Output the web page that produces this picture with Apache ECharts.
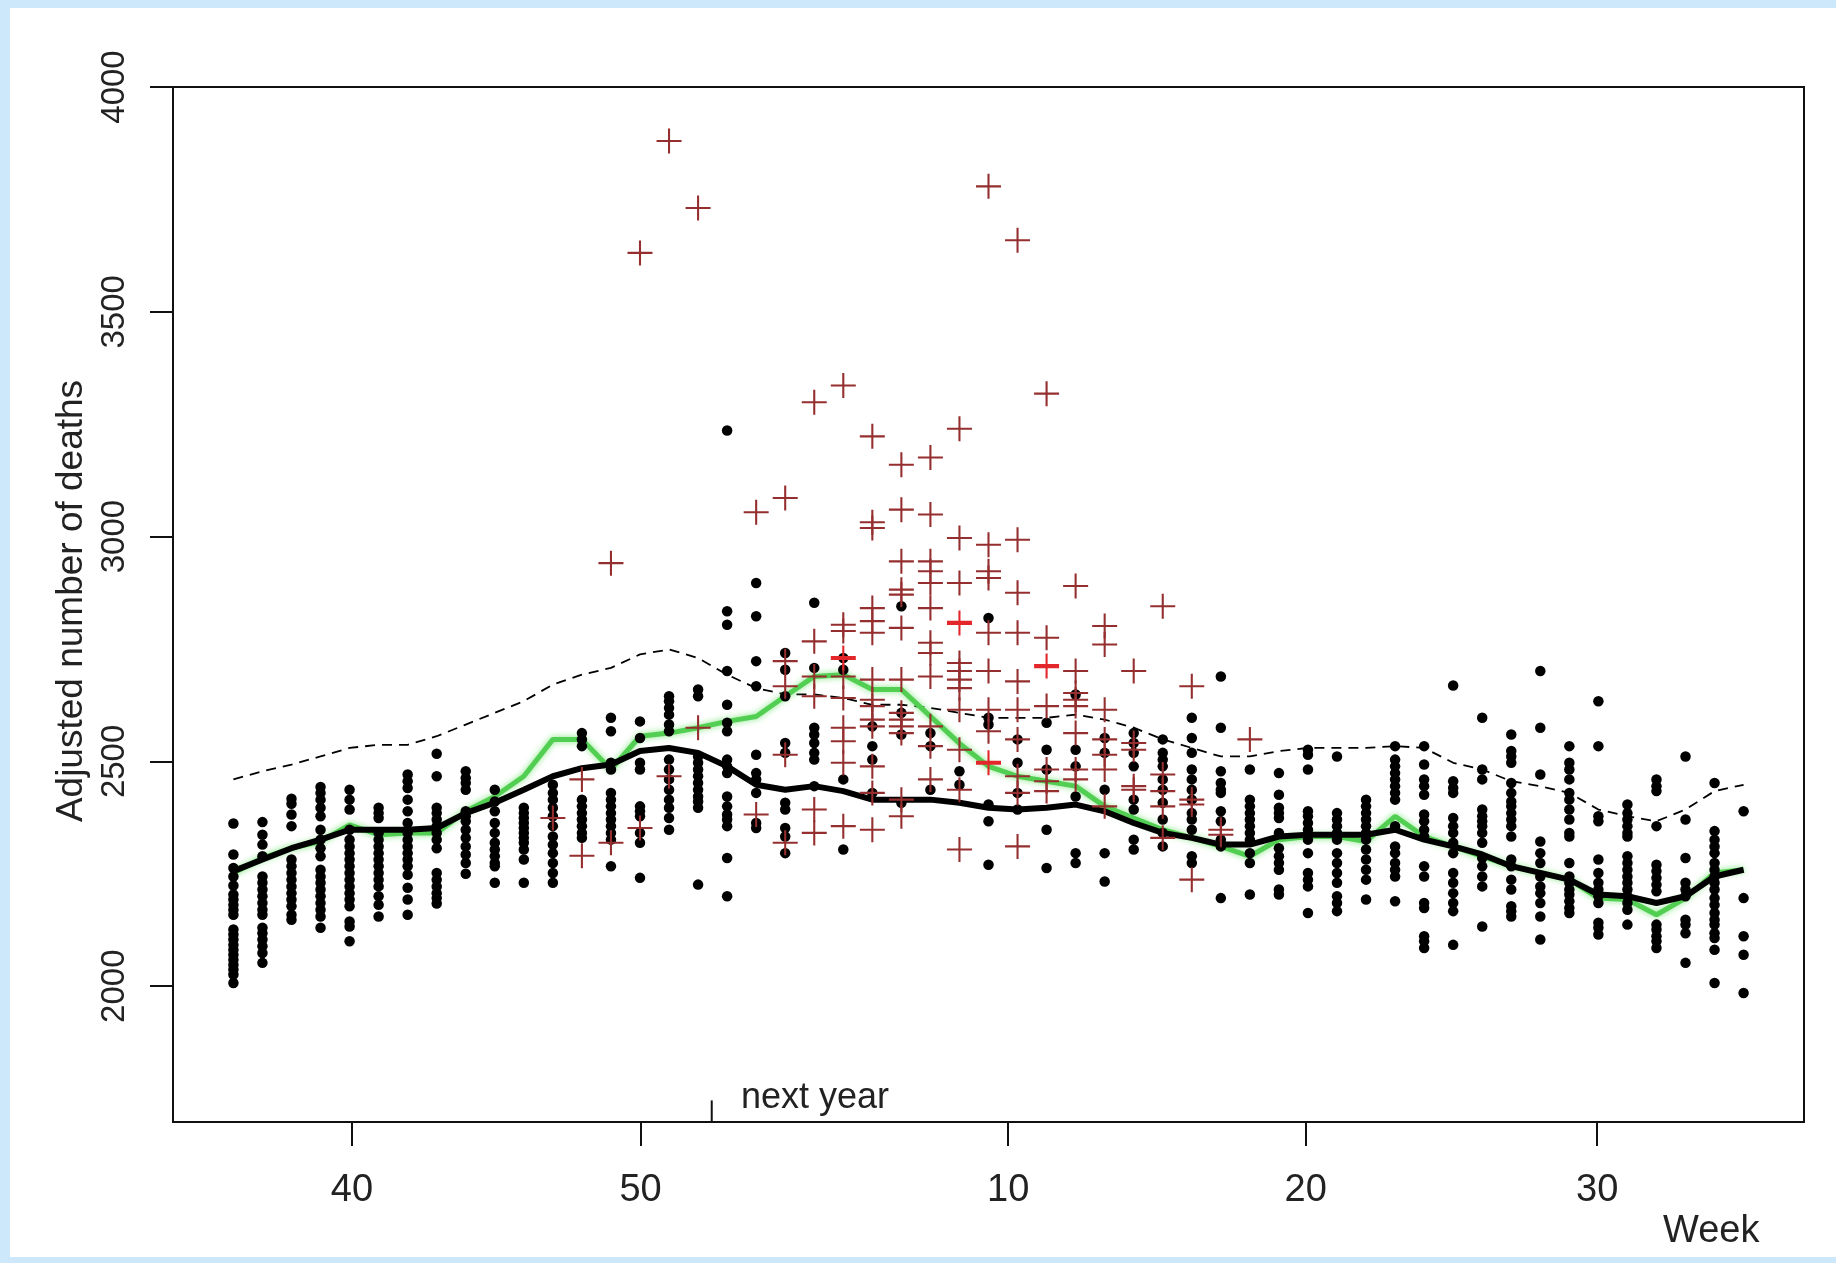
<!DOCTYPE html>
<html>
<head>
<meta charset="utf-8">
<script src="https://cdn.jsdelivr.net/npm/echarts@6/dist/echarts.min.js"></script>
<style>
  html, body { margin: 0; padding: 0; background: #cce8fa; width: 1836px; height: 1263px; overflow: hidden; }
  #paper { position: absolute; left: 10px; top: 8px; width: 1826px; height: 1249px; background: #ffffff; }
  #chart { position: absolute; left: 0; top: 0; width: 1836px; height: 1263px; }
</style>
</head>
<body>
<div id="paper"></div>
<div id="chart"></div>
<script>
// ---- tick labels (week numbers) and their positions on the week-index axis ----
const weekLabels = ['40', '50', '10', '20', '30'];
const weekTickPos = [4.08, 14.02, 26.68, 36.92, 46.96];
const nextYearPos = 16.47;
const yTicks = [2000, 2500, 3000, 3500, 4000];

// ---- observed adjusted deaths (black dots), one array per week column (week 36 .. week 35 next year) ----
const dots = [
  [2362,2293,2263,2244,2224,2204,2193,2181,2170,2159,2126,2115,2104,2092,2081,2070,2059,2048,2037,2026,2007],
  [2365,2337,2315,2289,2244,2230,2215,2200,2185,2170,2159,2130,2118,2104,2089,2074,2052],
  [2417,2406,2382,2356,2282,2267,2252,2237,2222,2207,2193,2178,2159,2148],
  [2443,2430,2415,2397,2378,2348,2326,2307,2289,2259,2244,2230,2215,2200,2185,2170,2155,2130],
  [2437,2415,2393,2348,2326,2311,2296,2282,2267,2252,2237,2222,2207,2193,2178,2144,2133,2100],
  [2397,2385,2374,2341,2326,2311,2296,2282,2267,2252,2237,2222,2200,2181,2155],
  [2471,2456,2441,2415,2389,2363,2341,2326,2311,2296,2282,2267,2248,2219,2193,2159],
  [2517,2467,2397,2385,2371,2356,2341,2326,2307,2252,2237,2222,2207,2196,2184],
  [2478,2463,2452,2437,2389,2378,2367,2348,2330,2311,2293,2274,2250],
  [2437,2411,2389,2363,2341,2319,2304,2289,2274,2267,2230],
  [2397,2385,2374,2363,2352,2341,2330,2319,2304,2282,2230],
  [2448,2430,2415,2397,2378,2356,2333,2315,2296,2274,2252,2230],
  [2563,2549,2534,2415,2400,2385,2371,2356,2341,2330],
  [2597,2567,2497,2482,2430,2415,2400,2385,2371,2356,2341,2326,2267],
  [2589,2552,2497,2482,2400,2389,2378,2341,2319,2241],
  [2645,2634,2619,2604,2582,2567,2504,2482,2460,2437,2415,2397,2374,2348],
  [2660,2645,2511,2497,2482,2467,2452,2437,2422,2411,2397,2226],
  [3236,2834,2804,2701,2626,2586,2567,2504,2489,2474,2422,2400,2382,2371,2356,2285,2200],
  [2897,2823,2723,2667,2515,2474,2460,2430,2363,2352],
  [2741,2704,2645,2541,2519,2408,2393,2352,2333,2296],
  [2853,2708,2575,2560,2541,2519,2504,2445],
  [2730,2704,2460,2304],
  [2578,2534,2504,2430],
  [2845,2608,2560,2408],
  [2563,2534,2437],
  [2478,2448],
  [2819,2597,2582,2404,2367,2270],
  [2549,2497,2430,2393],
  [2586,2526,2482,2348,2263],
  [2649,2526,2489,2422,2296,2274],
  [2552,2519,2437,2296,2233],
  [2563,2541,2519,2489,2415,2393,2326,2304],
  [2549,2519,2504,2489,2460,2437,2408,2371,2341,2311],
  [2597,2552,2519,2482,2460,2437,2415,2385,2371,2348,2289,2274],
  [2689,2575,2478,2452,2437,2430,2389,2367,2326,2311,2196],
  [2482,2415,2400,2385,2371,2356,2341,2326,2296,2274,2204],
  [2474,2426,2397,2385,2374,2341,2307,2289,2274,2259,2215,2204],
  [2526,2515,2482,2389,2378,2363,2348,2326,2296,2252,2237,2222,2163],
  [2511,2385,2371,2356,2341,2326,2296,2274,2252,2230,2200,2185,2167],
  [2415,2400,2385,2371,2356,2341,2326,2304,2282,2259,2237,2193],
  [2534,2504,2489,2474,2460,2445,2430,2415,2356,2311,2296,2274,2259,2244,2189],
  [2534,2493,2460,2445,2426,2382,2367,2348,2333,2267,2244,2185,2174,2111,2100,2085],
  [2669,2456,2441,2430,2374,2356,2341,2319,2296,2252,2230,2207,2185,2167,2092],
  [2597,2482,2460,2393,2378,2367,2356,2341,2319,2285,2267,2244,2222,2133],
  [2560,2523,2511,2497,2452,2430,2411,2400,2385,2371,2356,2333,2282,2267,2237,2215,2178,2167,2155],
  [2701,2575,2471,2322,2296,2274,2244,2222,2207,2185,2155,2104],
  [2534,2497,2482,2460,2430,2415,2393,2371,2341,2333,2274,2244,2230,2215,2204,2189,2174,2163],
  [2634,2534,2378,2367,2282,2252,2230,2215,2200,2185,2141,2130,2115],
  [2404,2385,2371,2356,2341,2333,2289,2274,2259,2244,2230,2215,2200,2185,2170,2137],
  [2460,2445,2434,2356,2270,2256,2241,2226,2211,2137,2126,2111,2100,2085],
  [2511,2371,2285,2230,2215,2200,2148,2137,2118,2052],
  [2452,2345,2326,2311,2296,2274,2259,2244,2230,2215,2196,2181,2163,2148,2137,2118,2107,2081,2007],
  [2389,2196,2111,2070,1985]
];

// ---- epidemic-season values (red crosses), per week column ----
const crosses = [
  [],[],[],[],[],[],[],[],[],[],[],
  [2374],
  [2460,2290],
  [2941,2319],
  [3631,2352],
  [3880,2467],
  [3731,2575],
  [],
  [3054,2382],
  [3086,2723,2667,2515,2319],
  [3299,2767,2689,2645,2393,2341],
  [3336,2804,2790,2689,2641,2575,2545,2497,2356],
  [3223,3032,3019,2841,2812,2786,2682,2637,2623,2593,2578,2489,2430,2348],
  [3160,3060,2945,2882,2871,2797,2682,2608,2593,2578,2563,2415,2378],
  [3176,3049,2945,2923,2897,2841,2764,2741,2689,2578,2534,2460],
  [3240,2997,2897,2719,2701,2682,2663,2615,2526,2437,2304],
  [3779,2982,2923,2908,2786,2701,2615,2567],
  [3659,2993,2875,2786,2678,2615,2549,2467,2430,2311],
  [3318,2775,2623,2482,2456,2434],
  [2890,2701,2652,2637,2623,2563,2482,2460],
  [2801,2760,2615,2549,2515,2482,2400],
  [2701,2541,2526,2445,2437],
  [2845,2471,2434,2400,2330],
  [2667,2415,2404,2237],
  [2348,2337],
  [2549]
];
// overlapping (bright red) crosses
const brightCrossWeeks = [21, 25, 26, 28];
const brightCrossValues = [2730, 2808, 2497, 2712];

// ---- curves, one value per week column ----
const baselineCurve = [2256,2282,2307,2326,2348,2348,2348,2352,2385,2408,2437,2467,2485,2493,2523,2530,2519,2489,2448,2437,2445,2434,2415,2415,2415,2408,2397,2393,2397,2404,2389,2363,2341,2330,2315,2315,2333,2337,2337,2337,2348,2326,2311,2293,2267,2252,2237,2204,2200,2185,2200,2244,2259];
const meanCurve = [2252,2285,2307,2322,2359,2337,2341,2341,2389,2422,2467,2549,2549,2482,2556,2563,2575,2589,2600,2645,2689,2693,2660,2660,2600,2540,2489,2467,2456,2445,2400,2374,2348,2330,2311,2289,2326,2333,2333,2322,2378,2333,2311,2289,2267,2252,2237,2196,2193,2159,2196,2252,2259];
const thresholdCurve = [2460,2478,2493,2511,2530,2537,2537,2556,2582,2608,2634,2671,2693,2708,2738,2749,2730,2693,2663,2649,2649,2641,2626,2626,2619,2608,2597,2597,2597,2604,2593,2575,2549,2530,2511,2511,2523,2530,2530,2530,2534,2530,2497,2482,2456,2445,2430,2393,2378,2367,2393,2434,2448];

// ---- build series data ----
const dotData = [];
dots.forEach((col, i) => col.forEach(v => dotData.push([i, v])));
const crossData = [];
crosses.forEach((col, i) => col.forEach(v => crossData.push([i, v])));
const brightData = brightCrossWeeks.map((w, k) => [w, brightCrossValues[k]]);
const toXY = arr => arr.map((v, i) => [i, v]);

const FONT = '"Liberation Sans", Arial, sans-serif';
const plusPath = 'path://M11,0H13V11H24V13H13V24H11V13H0V11H11Z';
const plusBoldPath = 'path://M11,0H13V10H24V14H13V24H11V14H0V10H11Z';

const chart = echarts.init(document.getElementById('chart'), null, { renderer: 'canvas' });
chart.setOption({
  backgroundColor: 'transparent',
  animation: false,
  grid: {
    left: 173, top: 87, width: 1631, height: 1035,
    show: true, borderColor: '#111', borderWidth: 2, backgroundColor: 'transparent'
  },
  xAxis: {
    type: 'value', min: -2.08, max: 54.08,
    axisLine: { show: true, onZero: false, lineStyle: { color: '#111', width: 2 } },
    axisTick: { show: true, customValues: weekTickPos, length: 24, lineStyle: { color: '#111', width: 2 } },
    axisLabel: {
      show: true, customValues: weekTickPos, margin: 50,
      fontFamily: FONT, fontSize: 38, color: '#222',
      formatter: function (v) {
        for (let i = 0; i < weekTickPos.length; i++) {
          if (Math.abs(weekTickPos[i] - v) < 0.01) return weekLabels[i];
        }
        return '';
      }
    },
    splitLine: { show: false }
  },
  yAxis: {
    type: 'value', min: 1698, max: 4000,
    axisLine: { show: true, onZero: false, lineStyle: { color: '#111', width: 2 } },
    axisTick: { show: true, customValues: yTicks, length: 23, lineStyle: { color: '#111', width: 2 } },
    axisLabel: {
      show: true, customValues: yTicks, rotate: 90, margin: 42,
      fontFamily: FONT, fontSize: 33, color: '#222',
      formatter: function (v) { return String(Math.round(v)); }
    },
    splitLine: { show: false }
  },
  graphic: [
    {
      type: 'text', x: 72, y: 601, rotation: Math.PI / 2,
      style: {
        text: 'Adjusted number of deaths', fill: '#222',
        font: '37px "Liberation Sans", Arial, sans-serif',
        align: 'center', verticalAlign: 'middle',
        textAlign: 'center', textVerticalAlign: 'middle'
      }
    },
    {
      type: 'text', x: 741, y: 1098,
      style: {
        text: 'next year', fill: '#222',
        font: '36px "Liberation Sans", Arial, sans-serif',
        align: 'left', verticalAlign: 'middle',
        textAlign: 'left', textVerticalAlign: 'middle'
      }
    },
    {
      type: 'text', x: 1663, y: 1232,
      style: {
        text: 'Week', fill: '#222',
        font: '38px "Liberation Sans", Arial, sans-serif',
        align: 'left', verticalAlign: 'middle',
        textAlign: 'left', textVerticalAlign: 'middle'
      }
    }
  ],
  series: [
    {
      name: 'threshold', type: 'line', data: toXY(thresholdCurve),
      showSymbol: false, silent: true, z: 2,
      lineStyle: { color: '#000', width: 1.8, type: [10, 7] }
    },
    {
      name: 'mean', type: 'line', data: toXY(meanCurve),
      showSymbol: false, silent: true, z: 3,
      lineStyle: { color: '#52cf52', width: 5, shadowBlur: 6, shadowColor: 'rgba(100,225,100,0.8)' }
    },
    {
      name: 'baseline', type: 'line', data: toXY(baselineCurve),
      showSymbol: false, silent: true, z: 4,
      lineStyle: { color: '#000', width: 6 }
    },
    {
      name: 'nextYearTick', type: 'line', data: [[nextYearPos, 1698], [nextYearPos, 1746]],
      showSymbol: false, silent: true, z: 4,
      lineStyle: { color: '#111', width: 2 }
    },
    {
      name: 'observed', type: 'scatter', data: dotData, z: 5,
      symbol: 'circle', symbolSize: 10.5, itemStyle: { color: '#000', opacity: 1 }, silent: true
    },
    {
      name: 'epidemic', type: 'scatter', data: crossData, z: 6,
      symbol: plusPath, symbolSize: 25, itemStyle: { color: '#952f2f', opacity: 1 }, silent: true
    },
    {
      name: 'epidemicOverlap', type: 'scatter', data: brightData, z: 7,
      symbol: plusBoldPath, symbolSize: 25, itemStyle: { color: '#e3262a', opacity: 1 }, silent: true
    }
  ]
});
</script>
</body>
</html>
